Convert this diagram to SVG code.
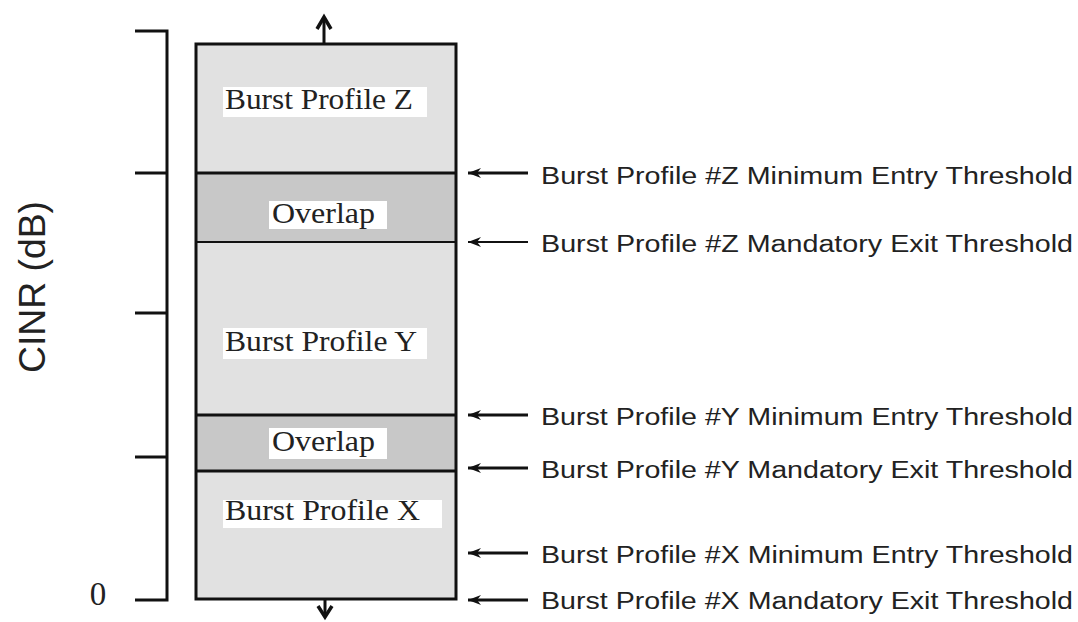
<svg xmlns="http://www.w3.org/2000/svg" width="1078" height="622" viewBox="0 0 1078 622">
<style>
.band{fill:#e1e1e1;stroke:none}
.ovl{fill:#c8c8c8;stroke:none}
.div{stroke:#111;stroke-width:3;fill:none}
.thin{stroke:#111;stroke-width:2;fill:none}
.bg{fill:#fff;stroke:none}
.ser{font-family:"Liberation Serif","Times New Roman",serif;font-size:30px;fill:#222}
.san{font-family:"Liberation Sans",Arial,sans-serif;font-size:23px;fill:#222}
.ax{stroke:#111;stroke-width:3;fill:none}
.arr{stroke:#111;stroke-width:3;fill:none}
</style>
<defs>
<marker id="ah" markerWidth="14" markerHeight="12" refX="13" refY="6" orient="auto" markerUnits="userSpaceOnUse">
<path d="M13,6 L0,1 L4,6 L0,11 Z" fill="#111"/>
</marker>
</defs>
<rect width="1078" height="622" fill="#fff"/>

<g id="axis">
<path class="ax" d="M135,31 H167 V600 H135"/>
<line class="ax" x1="135" y1="173" x2="167" y2="173"/>
<line class="ax" x1="135" y1="313" x2="167" y2="313"/>
<line class="ax" x1="135" y1="457" x2="167" y2="457"/>
<text class="san" transform="translate(45,287) rotate(-90)" text-anchor="middle" style="font-size:36px" textLength="172" lengthAdjust="spacingAndGlyphs">CINR (dB)</text>
<text class="ser" x="98" y="605" text-anchor="middle" style="font-size:33px">0</text>
</g>

<g id="profile-z">
<rect class="band" x="196" y="44" width="260" height="129"/>
<rect class="bg" x="223" y="87" width="204" height="30"/>
<text class="ser" x="225" y="109" textLength="188" lengthAdjust="spacingAndGlyphs">Burst Profile Z</text>
</g>
<g id="overlap-zy">
<rect class="ovl" x="196" y="173" width="260" height="69"/>
<rect class="bg" x="269" y="201" width="118" height="28"/>
<text class="ser" x="272" y="223" textLength="103" lengthAdjust="spacingAndGlyphs">Overlap</text>
</g>
<g id="profile-y">
<rect class="band" x="196" y="242" width="260" height="173"/>
<rect class="bg" x="223" y="328" width="204" height="31"/>
<text class="ser" x="225" y="351" textLength="192" lengthAdjust="spacingAndGlyphs">Burst Profile Y</text>
</g>
<g id="overlap-yx">
<rect class="ovl" x="196" y="415" width="260" height="56"/>
<rect class="bg" x="269" y="428" width="118" height="31"/>
<text class="ser" x="272" y="451" textLength="103" lengthAdjust="spacingAndGlyphs">Overlap</text>
</g>
<g id="profile-x">
<rect class="band" x="196" y="471" width="260" height="128"/>
<rect class="bg" x="223" y="500" width="219" height="28"/>
<text class="ser" x="225" y="520" textLength="195" lengthAdjust="spacingAndGlyphs">Burst Profile X</text>
</g>
<g id="box-frame">
<line class="div" x1="196" y1="173" x2="456" y2="173"/>
<line class="thin" x1="196" y1="242" x2="456" y2="242"/>
<line class="div" x1="196" y1="415" x2="456" y2="415"/>
<line class="div" x1="196" y1="471" x2="456" y2="471"/>
<rect class="div" x="196" y="44" width="260" height="555"/>
</g>

<g id="connectors">
<line class="ax" x1="324" y1="44" x2="324" y2="18"/>
<path d="M317,29 L324,17 L331,29" stroke="#111" stroke-width="3.5" fill="none"/>
<line class="ax" x1="325" y1="599" x2="325" y2="616"/>
<path d="M318,606 L325,617 L332,606" stroke="#111" stroke-width="3.5" fill="none"/>
<line class="arr" x1="528" y1="173" x2="468" y2="173" marker-end="url(#ah)"/>
<line class="arr" x1="528" y1="242" x2="468" y2="242" marker-end="url(#ah)" style="stroke-width:1.8"/>
<line class="arr" x1="528" y1="415" x2="468" y2="415" marker-end="url(#ah)"/>
<line class="arr" x1="528" y1="468" x2="468" y2="468" marker-end="url(#ah)"/>
<line class="arr" x1="528" y1="553" x2="468" y2="553" marker-end="url(#ah)"/>
<line class="arr" x1="528" y1="600" x2="468" y2="600" marker-end="url(#ah)"/>
</g>

<g id="thresholds">
<text class="san" x="541" y="184" textLength="532" lengthAdjust="spacingAndGlyphs">Burst Profile #Z Minimum Entry Threshold</text>
<text class="san" x="541" y="252" textLength="532" lengthAdjust="spacingAndGlyphs">Burst Profile #Z Mandatory Exit Threshold</text>
<text class="san" x="541" y="425" textLength="532" lengthAdjust="spacingAndGlyphs">Burst Profile #Y Minimum Entry Threshold</text>
<text class="san" x="541" y="478" textLength="532" lengthAdjust="spacingAndGlyphs">Burst Profile #Y Mandatory Exit Threshold</text>
<text class="san" x="541" y="563" textLength="532" lengthAdjust="spacingAndGlyphs">Burst Profile #X Minimum Entry Threshold</text>
<text class="san" x="541" y="609" textLength="532" lengthAdjust="spacingAndGlyphs">Burst Profile #X Mandatory Exit Threshold</text>
</g>
</svg>
